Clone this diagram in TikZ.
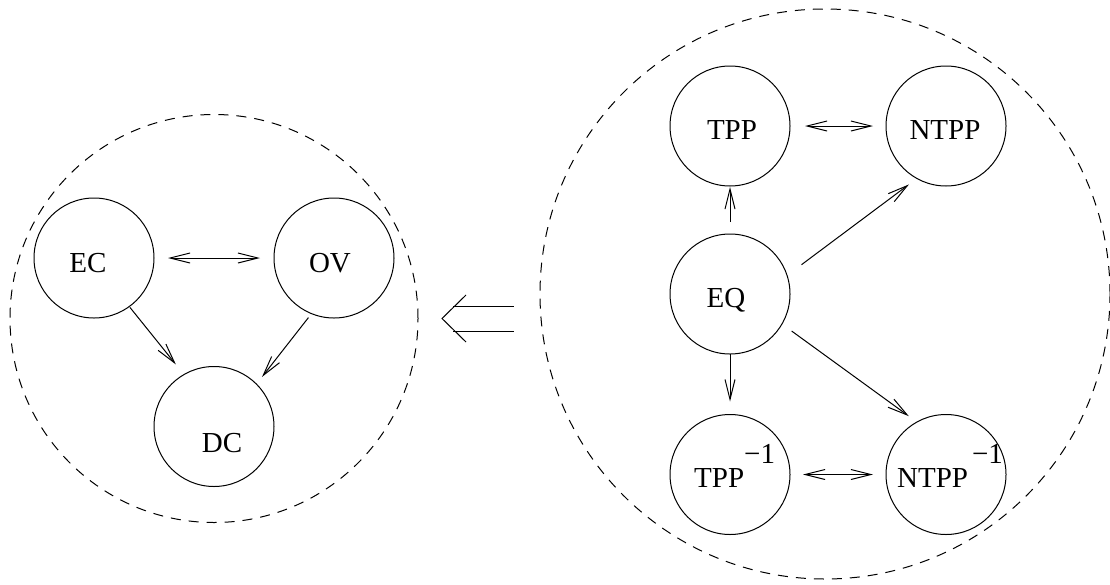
\documentclass[tikz,border=0pt]{standalone}
\usepackage{fontspec}
\setmainfont{Liberation Serif}
\usetikzlibrary{arrows.meta}
\tikzset{
  rel/.style={circle, draw, line width=1pt, minimum size=120pt, inner sep=0pt, outer sep=0pt},
  grp/.style={circle, draw, line width=1pt, dash pattern=on 10pt off 8pt, inner sep=0pt, outer sep=0pt},
  lbl/.style={inner sep=0pt, anchor=base, font=\fontsize{29}{34}\selectfont},
  lblw/.style={inner sep=0pt, anchor=base west, font=\fontsize{29}{34}\selectfont},
  conn/.style={line width=1pt, -{Straight Barb[length=20pt,width=10pt,line width=1pt]}},
  biconn/.style={line width=1pt, {Straight Barb[length=20pt,width=10pt,line width=1pt]}-{Straight Barb[length=20pt,width=10pt,line width=1pt]}}
}
\begin{document}
\begin{tikzpicture}[x=1pt,y=-1pt]
\useasboundingbox (0,0) rectangle (1110,584);
% groups
\node[grp, minimum size=408pt] (grpL) at (214,318.5) {};
\node[grp, minimum size=570pt] (grpR) at (825,294) {};
% left nodes
\node[rel] (EC) at (94,258) {};
\node[rel] (OV) at (334,258) {};
\node[rel] (DC) at (214,426.5) {};
\node[lbl] (ECt) at (88,272) {EC};
\node[lbl] (OVt) at (330,272) {OV};
\node[lbl] (DCt) at (222,452) {DC};
% right nodes
\node[rel] (TPP) at (730,126) {};
\node[rel] (NTPP) at (946,126) {};
\node[rel] (EQ) at (730,294) {};
\node[rel] (TPPi) at (730,474.5) {};
\node[rel] (NTPPi) at (946,474.5) {};
\node[lbl] (TPPt) at (732,139) {TPP};
\node[lbl] (NTPPt) at (945,139) {NTPP};
\node[lbl] (EQt) at (726,307) {EQ};
\node[lblw] (TPPit) at (694,487) {TPP\raisebox{24pt}{−1}};
\node[lblw] (NTPPit) at (897,487) {NTPP\kern4pt\raisebox{24pt}{−1}};
% left connectors
\draw[biconn, shorten <=14pt, shorten >=14pt] (EC) -- (OV);
\draw[conn, shorten <=1pt, shorten >=13pt] (EC.306) -- (DC.120);
\draw[conn, shorten <=5pt, shorten >=9pt] (OV.248) -- (DC.45);
% right connectors
\draw[biconn, shorten <=15pt, shorten >=13pt] (TPP) -- (NTPP);
\draw[conn, shorten <=12pt, shorten >=1pt] (EQ.north) -- (TPP.south);
\draw[conn, shorten <=18pt, shorten >=10pt] (EQ.18) -- (NTPP.241);
\draw[conn, shorten <=0pt, shorten >=13pt] (EQ.south) -- (TPPi.north);
\draw[conn, shorten <=12pt, shorten >=10pt] (EQ.330) -- (NTPPi.119);
\draw[biconn, shorten <=13pt, shorten >=13pt] (TPPi) -- (NTPPi);
% implication double arrow
\coordinate (impTip) at (442,318.5);
\coordinate (impA) at (466,295);
\coordinate (impB) at (466,342);
\coordinate (impU) at (453,306);
\coordinate (impUe) at (514,306);
\coordinate (impD) at (453,331);
\coordinate (impDe) at (514,331);
\draw[line width=1pt] (impA) -- (impTip) -- (impB);
\draw[line width=1pt] (impU) -- (impUe);
\draw[line width=1pt] (impD) -- (impDe);
\end{tikzpicture}
\end{document}
